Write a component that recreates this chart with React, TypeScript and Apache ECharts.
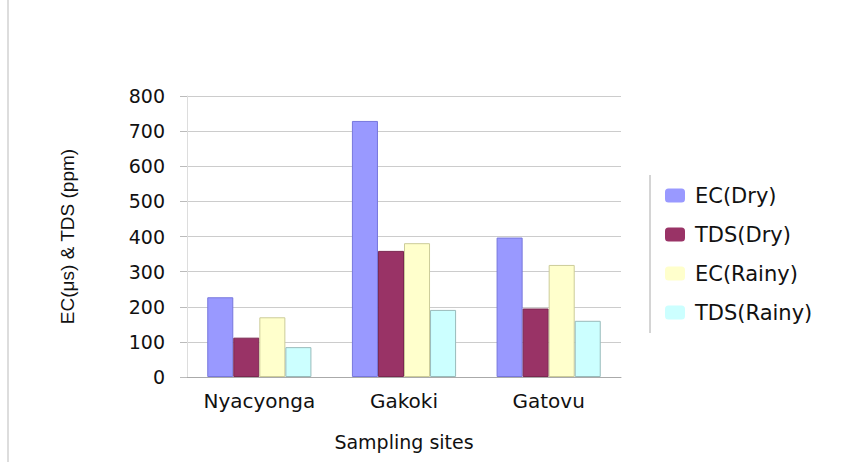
import React, { useEffect, useRef } from "react";
import * as echarts from "echarts";

const categories = ["Nyacyonga", "Gakoki", "Gatovu"];
const seriesNames = ["EC(Dry)", "TDS(Dry)", "EC(Rainy)", "TDS(Rainy)"];
const ecDry = [227, 729, 397];
const tdsDry = [112, 359, 195];
const ecRainy = [170, 381, 319];
const tdsRainy = [85, 191, 160];
const colors = ["#9999FF", "#993366", "#FFFFCC", "#CCFFFF"];
const borders = ["#7777DD", "#7a2850", "#cccc99", "#99bbbb"];

export default function App() {
  const ref = useRef<HTMLDivElement>(null);
  useEffect(() => {
    if (!ref.current) return;
    const chart = echarts.init(ref.current, undefined, { renderer: "svg" });
    const data = [ecDry, tdsDry, ecRainy, tdsRainy];
    const wide = "DejaVu Sans, Verdana, sans-serif";
    const arial = "Liberation Sans, Arial, sans-serif";
    chart.setOption({
      animation: false,
      backgroundColor: "#ffffff",
      grid: { left: 187, right: 246, top: 96, bottom: 85, containLabel: false },
      legend: {
        orient: "vertical",
        left: 660,
        top: 180,
        itemWidth: 20,
        itemHeight: 14,
        itemGap: 18,
        data: seriesNames.map((n, i) => ({ name: n, itemStyle: { color: colors[i], borderWidth: 0 } })),
        textStyle: { fontFamily: wide, fontSize: 21, color: "#111", padding: [0, 0, 0, 5] },
      },
      xAxis: {
        type: "category",
        data: categories,
        name: "Sampling sites",
        nameLocation: "middle",
        nameGap: 55,
        nameTextStyle: { fontFamily: wide, fontSize: 19, color: "#111" },
        axisLine: { lineStyle: { color: "#aaaaaa" } },
        axisTick: { show: false },
        axisLabel: { interval: 0, hideOverlap: false, fontFamily: wide, fontSize: 20, color: "#111", margin: 14 },
      },
      yAxis: {
        type: "value",
        min: 0,
        max: 800,
        interval: 100,
        name: "EC(μs) & TDS (ppm)",
        nameLocation: "middle",
        nameGap: 110,
        nameTextStyle: { fontFamily: arial, fontSize: 19, color: "#111" },
        axisLine: { show: true, lineStyle: { color: "#dddddd" } },
        axisTick: { show: true, length: 7, lineStyle: { color: "#bbbbbb" } },
        axisLabel: { fontFamily: wide, fontSize: 19, color: "#111", margin: 22 },
        splitLine: { lineStyle: { color: "#cccccc" } },
      },
      graphic: [
        { type: "line", shape: { x1: 8, y1: 0, x2: 8, y2: 462 }, style: { stroke: "#bbbbbb", lineWidth: 1 } },
        { type: "line", shape: { x1: 650, y1: 175, x2: 650, y2: 333 }, style: { stroke: "#aaaaaa", lineWidth: 1 } },
      ],
      series: seriesNames.map((n, i) => ({
        name: n,
        type: "bar",
        data: data[i],
        barGap: "0%",
        barCategoryGap: "28%",
        itemStyle: { color: colors[i], borderColor: borders[i], borderWidth: 1 },
      })),
    });
    return () => chart.dispose();
  }, []);
  return (
    <div
      ref={ref}
      style={{ position: "absolute", left: 0, top: 0, width: 867, height: 462 }}
    />
  );
}
